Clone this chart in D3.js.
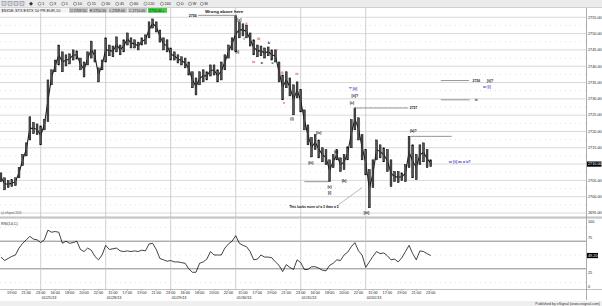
<!DOCTYPE html>
<html><head><meta charset="utf-8">
<script src="https://cdn.jsdelivr.net/npm/d3@7"></script>
<style>
html,body{margin:0;padding:0;background:#fff;}
svg{display:block;font-family:"Liberation Sans",Arial,sans-serif;}
</style></head><body>
<svg id="c" width="602" height="306"></svg>
<script>
// ---- data (30-minute bars, ESTX 50) ----
const barHigh = [2707.3,2705.8,2704.9,2705.2,2705.8,2708.9,2712.9,2716.5,2724.5,2722.7,
 2722.3,2721.7,2723.6,2735.8,2738.9,2741.9,2746.5,2744.4,2743.5,2743.8,
 2745.0,2744.7,2742.5,2741.3,2744.4,2747.7,2745.0,2739.5,2741.9,2748.7,
 2746.5,2746.2,2749.0,2746.5,2748.1,2750.2,2748.7,2748.1,2747.4,2748.7,
 2749.6,2753.6,2754.5,2753.6,2751.1,2748.7,2748.1,2745.6,2744.4,2743.5,
 2742.9,2742.5,2741.3,2738.3,2736.4,2738.3,2738.9,2738.3,2740.4,2740.4,
 2738.9,2741.3,2743.5,2746.5,2748.7,2755.5,2753.6,2753.0,2752.6,2750.2,
 2748.1,2746.5,2746.2,2745.6,2745.9,2745.0,2745.0,2741.3,2737.3,2738.3,
 2736.4,2734.3,2735.2,2732.8,2726.6,2722.0,2718.1,2719.0,2717.4,2715.0,
 2714.4,2711.3,2712.9,2714.4,2711.9,2712.9,2715.3,2723.6,2727.2,2724.2,
 2719.0,2714.4,2708.3,2711.3,2717.4,2715.9,2715.0,2714.4,2711.3,2707.7,
 2707.7,2707.3,2709.8,2718.5,2715.9,2712.9,2715.9,2716.5,2714.4,2711.3];
const barLow = [2704.6,2702.1,2702.8,2703.1,2703.4,2705.8,2709.5,2712.5,2717.4,2719.3,
 2719.0,2715.9,2720.5,2723.0,2734.3,2738.3,2740.4,2738.3,2740.1,2740.7,
 2741.9,2742.2,2738.9,2736.7,2740.4,2742.5,2741.3,2735.2,2738.9,2741.3,
 2743.2,2742.9,2744.4,2743.5,2744.4,2746.5,2745.6,2745.6,2745.0,2746.5,
 2746.8,2748.7,2751.7,2750.5,2747.4,2745.0,2744.4,2741.9,2741.9,2741.0,
 2740.4,2739.5,2737.3,2733.4,2731.2,2734.3,2735.2,2735.8,2737.0,2737.3,
 2735.2,2735.8,2738.9,2742.5,2745.0,2744.4,2748.7,2749.3,2748.7,2746.2,
 2743.5,2742.9,2743.2,2742.5,2743.2,2741.9,2741.3,2735.2,2729.7,2733.4,
 2730.9,2725.1,2730.3,2726.0,2720.5,2715.9,2712.2,2714.4,2711.9,2710.7,
 2709.8,2704.6,2708.9,2711.3,2707.7,2708.3,2711.3,2715.0,2720.5,2717.4,
 2711.3,2706.7,2696.6,2702.8,2711.3,2711.9,2710.7,2707.7,2703.1,2704.6,
 2704.3,2704.9,2704.6,2708.9,2705.8,2705.2,2709.8,2710.7,2708.9,2709.2];
const rsiValues = [47,42,45,48,50,60,67,72,77,73,
 72,68,72,86,83,84,83,67,70,67,
 68,70,58,55,60,57,48,43,50,64,
 58,59,60,56,55,56,55,56,55,57,
 56,66,67,58,45,43,41,42,40,40,
 39,38,30,25,25,38,40,44,55,50,
 50,50,60,66,70,78,67,64,62,55,
 43,44,50,47,47,46,40,35,26,36,
 32,29,43,39,29,29,33,33,31,28,
 27,35,38,43,42,50,54,62,68,56,
 50,32,40,48,55,52,53,49,43,44,
 40,46,55,64,52,43,56,55,52,49.2];
const lastPrice = 2710.00;
const priceTicks = [2695,2700,2705,2710,2715,2720,2725,2730,2735,2740,2745,2750,2755];
const rsiTicks = [0,25,50,75,100];
const rsiBands = [30,70];
const rsiDots = [10,50,90];
const days = ["01/24/13","01/25/13","01/28/13","01/29/13","01/30/13","01/31/13","02/01/13"];
const tickDay  = [0,0,0,1,1,1,1,2,2,2,2,2,3,3,3,3,4,4,4,4,4,5,5,5,5,6,6,6,6,6];
const tickHour = [19,21,23,16,18,20,22,15,17,19,21,23,16,18,20,22,15,17,19,21,23,16,18,20,22,15,17,19,21,23];
const toolbarItems = ["1","3","5","10","15","30","45","60","120","240","D","W","M"];
const headerBoxes = ["O 2709.50","H 2710.50","L 2709.00","C 2710.00"];
// annotations in (trading hour, price)
const levelLines = [
 {h0:30.8,h1:36.2,p:2755.6},{h0:52.4,h1:59.9,p:2727.2},{h0:60.2,h1:65.9,p:2718.5},
 {h0:45.5,h1:48.8,p:2704.6},{h0:64.4,h1:68.3,p:2735.6},{h0:64.4,h1:68.4,p:2729.7}];
const waveLabels = [
 {h:36.5,p:2754.3,t:"[v]",c:"k"},{h:36.25,p:2744.4,t:"(i)",c:"k"},
 {h:37.5,p:2752.9,t:"ii",c:"r"},{h:37.15,p:2748.4,t:"i",c:"k"},
 {h:39.2,p:2748.4,t:"iii",c:"r"},{h:38.5,p:2741.3,t:"iv",c:"r"},
 {h:40.6,p:2747.1,t:"b",c:"k"},{h:39.6,p:2741.0,t:"a",c:"k"},
 {h:41.65,p:2745.0,t:"v",c:"r"},{h:41.1,p:2741.0,t:"c",c:"k"},
 {h:42.4,p:2737.9,t:"iii",c:"r"},{h:44.5,p:2737.7,t:"iv",c:"r"},
 {h:42.7,p:2728.7,t:"v",c:"r"},{h:43.8,p:2723.8,t:"(i)",c:"k"},
 {h:47.5,p:2719.6,t:"(iv)",c:"k"},{h:46.4,p:2710.5,t:"(iii)",c:"k"},
 {h:49.9,p:2713.9,t:"(a)",c:"k"},{h:51.0,p:2705.0,t:"(b)",c:"k"},
 {h:49.0,p:2703.1,t:"(v)",c:"k"},{h:49.0,p:2701.3,t:"[i]",c:"k"},
 {h:52.1,p:2728.7,t:"(c)",c:"k"},{h:52.5,p:2730.9,t:"[ii]?",c:"k"},
 {h:52.25,p:2733.0,t:"** [ii]",c:"b"},{h:60.6,p:2720.2,t:"(b)?",c:"k"},
 {h:54.1,p:2695.2,t:"[iii]",c:"k"}];
const notes = [
 {h:60.1,p:2727.1,t:"2727",c:"k"},{h:68.8,p:2735.6,t:"2736",c:"k"},
 {h:70.8,p:2735.6,t:"[ii]?",c:"k"},{h:70.25,p:2733.6,t:"or [i]",c:"b"},
 {h:69.1,p:2729.7,t:"iv",c:"k"},{h:65.5,p:2710.8,t:"or [ii] as a iv?",c:"b"},
 {h:43.4,p:2697.0,t:"This looks more of a 3 than a 5",c:"k"}];
const pointer = [{h:50.2,p:2697.5},{h:53.5,p:2702.8}];

// ---- layout ----
const firstBarHour = 3.5, barHours = 0.5, sessionOpen = 14, sessionLen = 9;
const svg = d3.select("#c");
const plotR = 586, pTop = 8, pBot = 217, rTop = 219.5, rBot = 289.5;
const x = d3.scaleLinear().domain([3.365, 84.5]).range([0, plotR]);
const y = d3.scaleLinear().domain([2695, 2755]).range([213.0, 17.3]);
const yr = d3.scaleLinear().domain([0, 100]).range([289.5, 220.5]);
const colors = {k:"#111", r:"#e23030", b:"#3535c8"};
const barH = i => firstBarHour + i*barHours;

svg.append("rect").attr("width",602).attr("height",306).attr("fill","#fff");

// horizontal grids price
const gp = svg.append("g");
priceTicks.forEach(t=>{
  gp.append("line").attr("x1",0).attr("x2",plotR).attr("y1",y(t)).attr("y2",y(t))
    .attr("stroke","#cfcfcf").attr("stroke-width",0.8);
  if (t<2755) gp.append("line").attr("x1",0).attr("x2",plotR).attr("y1",y(t+2.5)).attr("y2",y(t+2.5))
    .attr("stroke","#bdbdbd").attr("stroke-width",0.6).attr("stroke-dasharray","0.8,4.2");
});
// rsi grids
rsiBands.forEach(v=>svg.append("line").attr("x1",0).attr("x2",plotR).attr("y1",yr(v)).attr("y2",yr(v))
  .attr("stroke","#7a7a7a").attr("stroke-width",0.9));
rsiDots.forEach(v=>svg.append("line").attr("x1",0).attr("x2",plotR).attr("y1",yr(v)).attr("y2",yr(v))
  .attr("stroke","#bdbdbd").attr("stroke-width",0.6).attr("stroke-dasharray","0.8,4.2"));
// day lines
for (let d=1; d<days.length; d++){
  const xx = x(d*sessionLen);
  svg.append("line").attr("x1",xx).attr("x2",xx).attr("y1",pTop).attr("y2",rBot)
    .attr("stroke","#c4c4c4").attr("stroke-width",0.8);
}
// panel separators
svg.append("rect").attr("x",0).attr("y",pBot).attr("width",602).attr("height",2).attr("fill","#d9d9d9");
svg.append("line").attr("x1",0).attr("x2",602).attr("y1",pBot).attr("y2",pBot).attr("stroke","#999").attr("stroke-width",0.6);
svg.append("line").attr("x1",0).attr("x2",602).attr("y1",rBot).attr("y2",rBot).attr("stroke","#999").attr("stroke-width",0.6);
svg.append("line").attr("x1",plotR+0.5).attr("x2",plotR+0.5).attr("y1",pTop).attr("y2",300).attr("stroke","#888").attr("stroke-width",0.7);

// price bars: high-low bars joined by a thin path through the bar midpoints
const gb = svg.append("g");
const mids = barHigh.map((h,i)=>[x(barH(i)), (y(h)+y(barLow[i]))/2]);
gb.append("path").attr("d", d3.line()(mids)).attr("fill","none").attr("stroke","#222").attr("stroke-width",1.1);
barHigh.forEach((h,i)=>{
  const cx = x(barH(i));
  gb.append("rect").attr("x",cx-0.9).attr("width",1.8)
    .attr("y",y(h)).attr("height",Math.max(1,y(barLow[i])-y(h)))
    .attr("fill","#555").attr("stroke","#000").attr("stroke-width",0.5);
});

// RSI line
svg.append("path").datum(rsiValues)
  .attr("d", d3.line().x((d,i)=>x(barH(i))).y(d=>yr(d)))
  .attr("fill","none").attr("stroke","#111").attr("stroke-width",0.8);

// level lines and annotations
levelLines.forEach(l=>svg.append("line").attr("x1",x(l.h0)).attr("x2",x(l.h1))
  .attr("y1",y(l.p)).attr("y2",y(l.p)).attr("stroke","#888").attr("stroke-width",0.9));
svg.append("line").attr("x1",x(pointer[0].h)).attr("y1",y(pointer[0].p))
  .attr("x2",x(pointer[1].h)).attr("y2",y(pointer[1].p)).attr("stroke","#999").attr("stroke-width",0.7);
waveLabels.forEach(a=>svg.append("text").attr("x",x(a.h)).attr("y",y(a.p)).attr("dy","0.35em")
  .attr("text-anchor","middle").attr("font-size",3.6).attr("font-weight","bold")
  .attr("fill",colors[a.c]).text(a.t));
notes.forEach(a=>svg.append("text").attr("x",x(a.h)).attr("y",y(a.p)).attr("dy","0.35em")
  .attr("font-size",3.4).attr("font-weight","bold").attr("fill",colors[a.c]).text(a.t));
svg.append("text").attr("x",x(30.6)).attr("y",y(2755.6)).attr("dy","0.35em").attr("text-anchor","end")
  .attr("font-size",3.6).attr("font-weight","bold").attr("fill","#111").text("2756");
svg.append("text").attr("x",x(31.75)).attr("y",y(2756.8)).attr("dy","0.35em")
  .attr("font-size",4.4).attr("font-weight","bold").attr("fill","#111").text("Wrong above here");

// right axis labels (the value boxes cover the tick label they sit on)
const lastR = rsiValues[rsiValues.length-1];
priceTicks.filter(t=>Math.abs(y(t)-y(lastPrice))>5).forEach(t=>svg.append("text").attr("x",588).attr("y",y(t)).attr("dy","0.35em")
  .attr("font-size",3.8).attr("fill","#222").text(t.toFixed(2)));
svg.append("rect").attr("x",587).attr("y",y(lastPrice)-2.6).attr("width",14.5).attr("height",5.2).attr("fill","#000");
svg.append("text").attr("x",588).attr("y",y(lastPrice)).attr("dy","0.35em").attr("font-size",3.8)
  .attr("fill","#fff").text(lastPrice.toFixed(2));
rsiTicks.filter(t=>Math.abs(yr(t)-yr(lastR))>5).forEach(t=>svg.append("text").attr("x",588).attr("y",Math.min(287,Math.max(222,yr(t)))).attr("dy","0.35em")
  .attr("font-size",3.8).attr("fill","#222").text(t));
svg.append("rect").attr("x",587).attr("y",yr(lastR)-2.6).attr("width",11).attr("height",5.2).attr("fill","#000");
svg.append("text").attr("x",588).attr("y",yr(lastR)).attr("dy","0.35em").attr("font-size",3.8)
  .attr("fill","#fff").text(lastR.toFixed(2));

// time axis
tickDay.forEach((d,k)=>{
  const xx = x(d*sessionLen + tickHour[k]-sessionOpen);
  svg.append("line").attr("x1",xx).attr("x2",xx).attr("y1",rBot).attr("y2",rBot+1.5).attr("stroke","#777").attr("stroke-width",0.5);
  svg.append("text").attr("x",xx).attr("y",292.5).attr("dy","0.35em").attr("text-anchor","middle")
    .attr("font-size",3.8).attr("fill","#222").text(String(tickHour[k]).padStart(2,"0")+":00");
});
for (let d=1; d<days.length; d++){
  svg.append("text").attr("x",x(d*sessionLen)+1).attr("y",298).attr("dy","0.35em")
    .attr("font-size",3.8).attr("fill","#222").text(days[d]);
}
svg.append("text").attr("x",1).attr("y",223.5).attr("dy","0.35em").attr("font-size",3.8).attr("fill","#222").text("RSI(14,C)");
svg.append("text").attr("x",1).attr("y",213.5).attr("dy","0.35em").attr("font-size",2.8).attr("fill","#555").text("(c) eSignal 2013");

// footer
svg.append("rect").attr("x",0).attr("y",301).attr("width",602).attr("height",5).attr("fill","#efefef");
svg.append("text").attr("x",600).attr("y",303.6).attr("dy","0.35em").attr("text-anchor","end")
  .attr("font-size",3.6).attr("fill","#333").text("Published by eSignal (www.esignal.com)");

// toolbar
svg.append("rect").attr("x",0).attr("y",0).attr("width",602).attr("height",7.5).attr("fill","#ebebeb");
svg.append("line").attr("x1",0).attr("x2",602).attr("y1",7.5).attr("y2",7.5).attr("stroke","#b5b5b5").attr("stroke-width",0.6);
[2,8,14,20].forEach(xx=>svg.append("rect").attr("x",xx).attr("y",1.5).attr("width",4).attr("height",4)
  .attr("fill","#cfd6de").attr("stroke","#667").attr("stroke-width",0.4));
svg.append("path").attr("d","M29,3.8 l2,-2 l2,2 l-2,2z").attr("fill","#333");
let tx = 38;
toolbarItems.forEach(t=>{
  svg.append("circle").attr("cx",tx+1.6).attr("cy",3.8).attr("r",1.6).attr("fill","none").attr("stroke","#444").attr("stroke-width",0.45);
  svg.append("text").attr("x",tx+4.2).attr("y",3.8).attr("dy","0.35em").attr("font-size",3.8).attr("fill","#222").text(t);
  tx += 6 + t.length*2.3 + 3.5;
});
// header row
svg.append("rect").attr("x",0).attr("y",7.8).attr("width",68).attr("height",5).attr("fill","#f4f4f4");
svg.append("text").attr("x",1.5).attr("y",10.4).attr("dy","0.35em").attr("font-size",3.9).attr("fill","#111")
  .text("$SX5E-STX    ESTX 50 PR.EUR,10");
headerBoxes.forEach((t,k)=>{
  svg.append("rect").attr("x",69+k*19.7).attr("y",8).attr("width",19).attr("height",4.8).attr("fill","#c9c9c9");
  svg.append("text").attr("x",70+k*19.7).attr("y",10.4).attr("dy","0.35em").attr("font-size",3.5).attr("fill","#222").text(t);
});
svg.append("rect").attr("x",148).attr("y",8).attr("width",19).attr("height",4.8).attr("fill","#3fd13f");
svg.append("text").attr("x",149).attr("y",10.4).attr("dy","0.35em").attr("font-size",3.5).attr("fill","#111").text(lastPrice.toFixed(2)+" +");
</script>
</body></html>
